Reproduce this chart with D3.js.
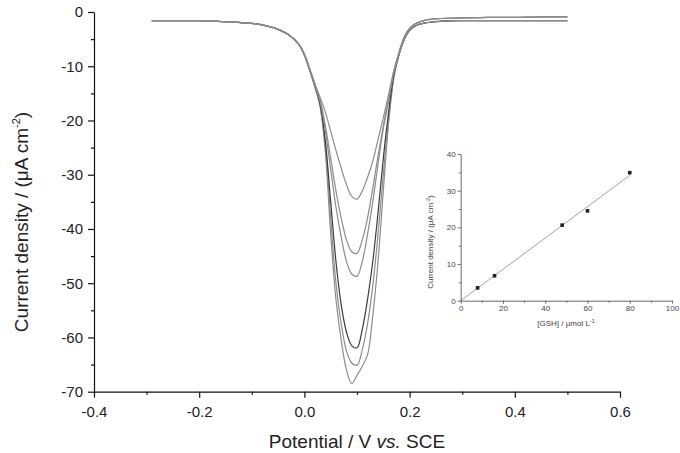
<!DOCTYPE html>
<html>
<head>
<meta charset="utf-8">
<script src="https://cdn.jsdelivr.net/npm/d3@7"></script>
<style>
  body { margin: 0; background: #fff; }
  svg { display: block; font-family: "Liberation Sans", Arial, sans-serif; }
</style>
</head>
<body>
<svg width="680" height="453"></svg>
<script>
// potential (V vs SCE) sampled for every voltammogram
let potential = [-0.29, -0.25, -0.2, -0.15, -0.1, -0.07, -0.05, -0.03, -0.01, 0.0,
    0.01, 0.02, 0.03, 0.04, 0.05, 0.06, 0.07, 0.08, 0.09, 0.10,
    0.11, 0.12, 0.13, 0.14, 0.15, 0.16, 0.17, 0.18, 0.19, 0.20,
    0.21, 0.23, 0.26, 0.30, 0.35, 0.40, 0.45, 0.50];

// current density (uA cm-2), one array per curve
let curve1 = [-1.6, -1.6, -1.6, -1.8, -2.1, -2.6, -3.2, -4.2, -6.1, -8.0,
    -10.8, -13.9, -17.6, -26, -41, -53, -60.5, -66, -68.5, -67.0,
    -65.3, -63.2, -56, -46, -33, -20.5, -12.2, -7.8, -5.0, -3.4,
    -2.6, -2.0, -1.7, -1.6, -1.6, -1.6, -1.6, -1.6];
let curve2 = [-1.6, -1.6, -1.6, -1.8, -2.1, -2.6, -3.2, -4.2, -6.0, -7.9,
    -10.6, -13.7, -17.3, -25, -38, -50, -57.5, -62.5, -64.7, -65.1,
    -62.3, -57.5, -50.5, -41, -30, -20, -11.8, -7.4, -4.6, -3.0,
    -2.2, -1.5, -1.2, -1.1, -1.0, -1.0, -0.9, -0.9];
let curve3 = [-1.6, -1.6, -1.6, -1.8, -2.1, -2.6, -3.2, -4.2, -6.0, -7.9,
    -10.6, -13.6, -17.0, -24, -35, -46, -54, -59, -61.5, -61.9,
    -58.5, -53, -46, -37, -27, -18.5, -11.6, -7.8, -5.0, -3.4,
    -2.6, -2.0, -1.7, -1.6, -1.6, -1.6, -1.6, -1.6];
let curve4 = [-1.6, -1.6, -1.6, -1.8, -2.1, -2.6, -3.2, -4.2, -6.0, -7.8,
    -10.5, -13.5, -16.6, -22, -29, -36, -41.5, -46, -48.3, -48.7,
    -46, -41, -35, -28, -21.5, -16.5, -11.2, -7.4, -4.6, -3.0,
    -2.2, -1.5, -1.2, -1.1, -1.0, -1.0, -0.9, -0.9];
let curve5 = [-1.6, -1.6, -1.6, -1.8, -2.1, -2.6, -3.2, -4.2, -6.0, -7.8,
    -10.5, -13.4, -16.3, -21, -27, -33, -38, -42, -44.2, -44.5,
    -42, -38, -32.5, -26.5, -21, -16, -11.0, -7.8, -5.0, -3.4,
    -2.6, -2.0, -1.7, -1.6, -1.6, -1.6, -1.6, -1.6];
let curve6 = [-1.6, -1.6, -1.6, -1.8, -2.1, -2.6, -3.2, -4.2, -6.0, -7.8,
    -10.4, -13.2, -15.8, -18.5, -22, -25.5, -28.8, -31.8, -34, -34.5,
    -33, -30.5, -27.5, -23.5, -19.5, -15.3, -10.8, -7.4, -4.6, -3.0,
    -2.2, -1.5, -1.2, -1.1, -1.0, -1.0, -0.9, -0.9];
let curves = [curve1, curve2, curve3, curve4, curve5, curve6];
let curveColors = ["#8c8c8c", "#8c8c8c", "#3a3a3a", "#8c8c8c", "#8c8c8c", "#8c8c8c"];

let xTicks = [-0.4, -0.2, 0.0, 0.2, 0.4, 0.6];
let yTicks = [0, -10, -20, -30, -40, -50, -60, -70];

// inset: calibration
let gshConc = [8, 16, 48, 60, 80];
let gshCurrent = [3.5, 6.8, 20.6, 24.5, 34.9];
let insetXTicks = [0, 20, 40, 60, 80, 100];
let insetYTicks = [0, 10, 20, 30, 40];

let svg = d3.select("svg");

let x = d3.scaleLinear().domain([-0.4, 0.6]).range([94, 620]);
let y = d3.scaleLinear().domain([-70, 0]).range([391.7, 12]);

// plain hyphen minus like the original
function fmt1(d) { return d3.format(".1f")(d).replace("\u2212", "-"); }
function fmt0(d) { return String(d); }

// curves
let line = d3.line()
    .x(function (d) { return x(d[0]); })
    .y(function (d) { return y(d[1]); })
    .curve(d3.curveCatmullRom.alpha(0.5));

curves.forEach(function (c, k) {
    let pts = potential.map(function (v, i) { return [v, c[i]]; });
    svg.append("path")
        .attr("d", line(pts))
        .attr("fill", "none")
        .attr("stroke", curveColors[k])
        .attr("stroke-width", 1.2);
});

// main axes
let xAxis = svg.append("g").attr("transform", "translate(0," + y(-70) + ")")
    .call(d3.axisBottom(x).tickValues(xTicks).tickSize(6).tickSizeOuter(0)
        .tickFormat(fmt1));
svg.append("g").attr("transform", "translate(0," + y(-70) + ")")
    .call(d3.axisBottom(x).tickValues([-0.3, -0.1, 0.1, 0.3, 0.5]).tickSize(3)
        .tickSizeOuter(0).tickFormat(""))
    .select(".domain").remove();

let yAxis = svg.append("g").attr("transform", "translate(" + x(-0.4) + ",0)")
    .call(d3.axisLeft(y).tickValues(yTicks).tickSize(6).tickSizeOuter(0).tickFormat(fmt0));
svg.append("g").attr("transform", "translate(" + x(-0.4) + ",0)")
    .call(d3.axisLeft(y).tickValues([-5, -15, -25, -35, -45, -55, -65]).tickSize(3)
        .tickSizeOuter(0).tickFormat(""))
    .select(".domain").remove();

svg.selectAll(".domain, .tick line").attr("stroke", "#111").attr("stroke-width", 1.2);
xAxis.selectAll("text").attr("font-size", 15).attr("fill", "#222")
    .attr("font-family", "Liberation Sans, Arial, sans-serif").attr("y", 20).attr("dy", "0.71em");
xAxis.selectAll("text").attr("y", 15);
yAxis.selectAll("text").attr("font-size", 15).attr("fill", "#222")
    .attr("font-family", "Liberation Sans, Arial, sans-serif").attr("x", -11);

// axis titles
let xt = svg.append("text").attr("x", 357).attr("y", 448).attr("text-anchor", "middle")
    .attr("font-size", 19).attr("fill", "#222");
xt.append("tspan").text("Potential / V ");
xt.append("tspan").attr("font-style", "italic").text("vs.");
xt.append("tspan").text(" SCE");

let yt = svg.append("text").attr("transform", "translate(28,222) rotate(-90)")
    .attr("text-anchor", "middle").attr("font-size", 19).attr("fill", "#222");
yt.append("tspan").text("Current density / (\u03bcA cm");
yt.append("tspan").attr("font-size", 11).attr("dy", -8).text("-2");
yt.append("tspan").attr("dy", 8).text(")");

// inset
let xi = d3.scaleLinear().domain([0, 100]).range([460.7, 672]);
let yi = d3.scaleLinear().domain([0, 40]).range([300.7, 154]);

// regression line through the calibration points
let mx = d3.mean(gshConc), my = d3.mean(gshCurrent);
let sxy = d3.sum(gshConc, function (c, i) { return (c - mx) * (gshCurrent[i] - my); });
let sxx = d3.sum(gshConc, function (c) { return (c - mx) * (c - mx); });
let slope = sxy / sxx, icpt = my - slope * mx;

let insetLines = svg.append("g");
insetLines.append("line")
    .attr("x1", xi(0)).attr("y1", yi(Math.max(icpt, 0)))
    .attr("x2", xi(80)).attr("y2", yi(icpt + slope * 80))
    .attr("stroke", "#999").attr("stroke-width", 0.9);

svg.selectAll(".pt").data(gshConc).enter().append("rect")
    .attr("class", "pt")
    .attr("x", function (d) { return xi(d) - 1.8; })
    .attr("y", function (d, i) { return yi(gshCurrent[i]) - 1.8; })
    .attr("width", 3.6).attr("height", 3.6)
    .attr("fill", "#222");

let insetAxes = svg.append("g").attr("class", "inset-axes");
let xiAxis = insetAxes.append("g").attr("transform", "translate(0," + yi(0) + ")")
    .call(d3.axisBottom(xi).tickValues(insetXTicks).tickSize(3).tickSizeOuter(0));
insetAxes.append("g").attr("transform", "translate(0," + yi(0) + ")")
    .call(d3.axisBottom(xi).tickValues([10, 30, 50, 70, 90]).tickSize(2)
        .tickSizeOuter(0).tickFormat(""))
    .select(".domain").remove();
let yiAxis = insetAxes.append("g").attr("transform", "translate(" + xi(0) + ",0)")
    .call(d3.axisLeft(yi).tickValues(insetYTicks).tickSize(3).tickSizeOuter(0));
insetAxes.append("g").attr("transform", "translate(" + xi(0) + ",0)")
    .call(d3.axisLeft(yi).tickValues([5, 15, 25, 35]).tickSize(2)
        .tickSizeOuter(0).tickFormat(""))
    .select(".domain").remove();

insetAxes.selectAll(".domain, .tick line").attr("stroke", "#444").attr("stroke-width", 0.8);
insetAxes.selectAll("text").attr("font-size", 8).attr("fill", "#444")
    .attr("font-family", "Liberation Sans, Arial, sans-serif");
xiAxis.selectAll("text").attr("y", 5).attr("dy", "0.71em");
yiAxis.selectAll("text").attr("x", -5);

let xit = svg.append("text").attr("x", 566).attr("y", 326).attr("text-anchor", "middle")
    .attr("font-size", 8).attr("fill", "#444");
xit.append("tspan").text("[GSH] / \u03bcmol L");
xit.append("tspan").attr("font-size", 5.5).attr("dy", -3).text("-1");

let yit = svg.append("text").attr("transform", "translate(433,242) rotate(-90)")
    .attr("text-anchor", "middle").attr("font-size", 8).attr("fill", "#444");
yit.append("tspan").text("Current density / (\u03bcA cm");
yit.append("tspan").attr("font-size", 5.5).attr("dy", -3).text("-2");
yit.append("tspan").attr("dy", 3).text(")");
</script>
</body>
</html>
